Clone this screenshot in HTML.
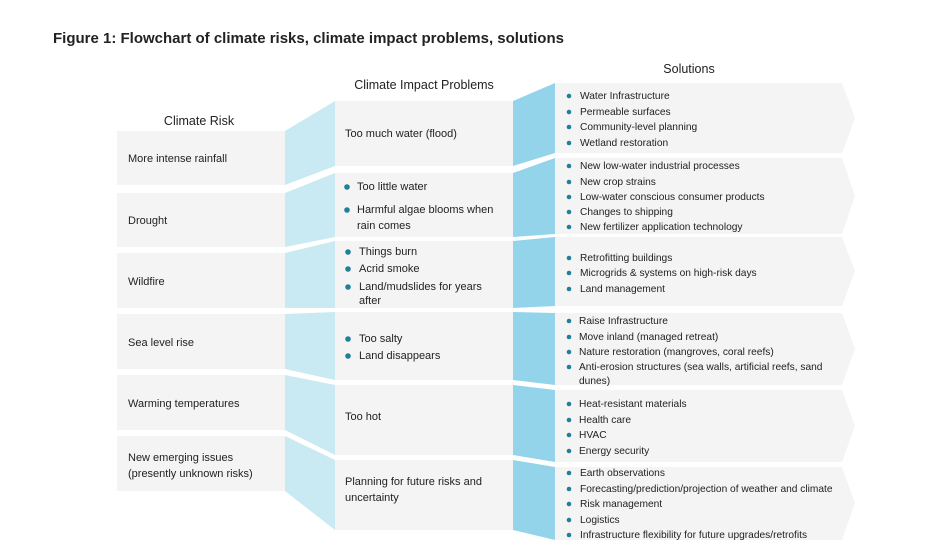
<!DOCTYPE html>
<html><head><style>body{margin:0;background:#fff}svg{display:block}text{font-family:"Liberation Sans",sans-serif;fill:#222}</style></head><body>
<svg width="936" height="552" viewBox="0 0 936 552" xmlns="http://www.w3.org/2000/svg">
<text x="53" y="43" font-size="15" font-weight="bold" fill="#111">Figure 1: Flowchart of climate risks, climate impact problems, solutions</text>
<text x="199" y="125" font-size="12.5" text-anchor="middle">Climate Risk</text>
<text x="424" y="89" font-size="12.5" text-anchor="middle">Climate Impact Problems</text>
<text x="689" y="73" font-size="12.5" text-anchor="middle">Solutions</text>
<g fill="#f4f4f4">
<rect x="117" y="131" width="168" height="54"/><rect x="117" y="193" width="168" height="54"/><rect x="117" y="253" width="168" height="55"/><rect x="117" y="314" width="168" height="55"/><rect x="117" y="375" width="168" height="55"/><rect x="117" y="436" width="168" height="55"/>
<rect x="335" y="101" width="178" height="65"/><rect x="335" y="173" width="178" height="64"/><rect x="335" y="241" width="178" height="67"/><rect x="335" y="312" width="178" height="68"/><rect x="335" y="385" width="178" height="70"/><rect x="335" y="460" width="178" height="70"/>
<polygon points="555,83 842,83 855,118 842,153 555,153"/><polygon points="555,158 842,158 855,196 842,234 555,234"/><polygon points="555,237 842,237 855,271 842,306 555,306"/><polygon points="555,313 842,313 855,349 842,385 555,385"/><polygon points="555,390 842,390 855,426 842,462 555,462"/><polygon points="555,467 842,467 855,503 842,540 555,540"/>
</g>
<g fill="#c9e9f3">
<polygon points="285,131 335,101 335,166 285,185"/><polygon points="285,193 335,173 335,237 285,247"/><polygon points="285,253 335,241 335,308 285,308"/><polygon points="285,314 335,312 335,380 285,369"/><polygon points="285,375 335,385 335,455 285,430"/><polygon points="285,436 335,460 335,530 285,491"/>
</g>
<g fill="#93d4ea">
<polygon points="513,101 555,83 555,153 513,166"/><polygon points="513,173 555,158 555,234 513,237"/><polygon points="513,241 555,237 555,306 513,308"/><polygon points="513,312 555,313 555,385 513,380"/><polygon points="513,385 555,390 555,462 513,455"/><polygon points="513,460 555,467 555,540 513,530"/>
</g>
<g font-size="11">
<text x="128" y="162">More intense rainfall</text><text x="128" y="224">Drought</text><text x="128" y="285">Wildfire</text><text x="128" y="346">Sea level rise</text><text x="128" y="407">Warming temperatures</text><text x="128" y="461">New emerging issues</text><text x="128" y="477">(presently unknown risks)</text>
<text x="345" y="137">Too much water (flood)</text>
<text x="357" y="190">Too little water</text><text x="357" y="213">Harmful algae blooms when</text><text x="357" y="229">rain comes</text>
<text x="359" y="255">Things burn</text><text x="359" y="272">Acrid smoke</text><text x="359" y="290">Land/mudslides for years</text><text x="359" y="304">after</text>
<text x="359" y="342">Too salty</text><text x="359" y="359">Land disappears</text>
<text x="345" y="420">Too hot</text>
<text x="345" y="485">Planning for future risks and</text><text x="345" y="501">uncertainty</text>
</g>
<g fill="#1f7f9c">
<circle cx="347" cy="187" r="2.8"/><circle cx="347" cy="210" r="2.8"/><circle cx="348" cy="252" r="2.8"/><circle cx="348" cy="269" r="2.8"/><circle cx="348" cy="287" r="2.8"/><circle cx="348" cy="339" r="2.8"/><circle cx="348" cy="356" r="2.8"/>
</g>
<g font-size="10.2">
<text x="580" y="99">Water Infrastructure</text><text x="580" y="115">Permeable surfaces</text><text x="580" y="130">Community-level planning</text><text x="580" y="146">Wetland restoration</text>
<text x="580" y="169">New low-water industrial processes</text><text x="580" y="185">New crop strains</text><text x="580" y="200">Low-water conscious consumer products</text><text x="580" y="215">Changes to shipping</text><text x="580" y="230">New fertilizer application technology</text>
<text x="580" y="261">Retrofitting buildings</text><text x="580" y="276">Microgrids &amp; systems on high-risk days</text><text x="580" y="292">Land management</text>
<text x="579" y="324">Raise Infrastructure</text><text x="579" y="340">Move inland (managed retreat)</text><text x="579" y="355">Nature restoration (mangroves, coral reefs)</text><text x="579" y="370">Anti-erosion structures (sea walls, artificial reefs, sand</text><text x="579" y="384">dunes)</text>
<text x="579" y="407">Heat-resistant materials</text><text x="579" y="423">Health care</text><text x="579" y="438">HVAC</text><text x="579" y="454">Energy security</text>
<text x="580" y="476">Earth observations</text><text x="580" y="492">Forecasting/prediction/projection of weather and climate</text><text x="580" y="507">Risk management</text><text x="580" y="523">Logistics</text><text x="580" y="538">Infrastructure flexibility for future upgrades/retrofits</text>
</g>
<g fill="#1f7f9c">
<circle cx="569" cy="96" r="2.3"/><circle cx="569" cy="112" r="2.3"/><circle cx="569" cy="127" r="2.3"/><circle cx="569" cy="143" r="2.3"/>
<circle cx="569" cy="166" r="2.3"/><circle cx="569" cy="182" r="2.3"/><circle cx="569" cy="197" r="2.3"/><circle cx="569" cy="212" r="2.3"/><circle cx="569" cy="227" r="2.3"/>
<circle cx="569" cy="258" r="2.3"/><circle cx="569" cy="273" r="2.3"/><circle cx="569" cy="289" r="2.3"/>
<circle cx="569" cy="321" r="2.3"/><circle cx="569" cy="337" r="2.3"/><circle cx="569" cy="352" r="2.3"/><circle cx="569" cy="367" r="2.3"/>
<circle cx="569" cy="404" r="2.3"/><circle cx="569" cy="420" r="2.3"/><circle cx="569" cy="435" r="2.3"/><circle cx="569" cy="451" r="2.3"/>
<circle cx="569" cy="473" r="2.3"/><circle cx="569" cy="489" r="2.3"/><circle cx="569" cy="504" r="2.3"/><circle cx="569" cy="520" r="2.3"/><circle cx="569" cy="535" r="2.3"/>
</g>
</svg>
</body></html>
